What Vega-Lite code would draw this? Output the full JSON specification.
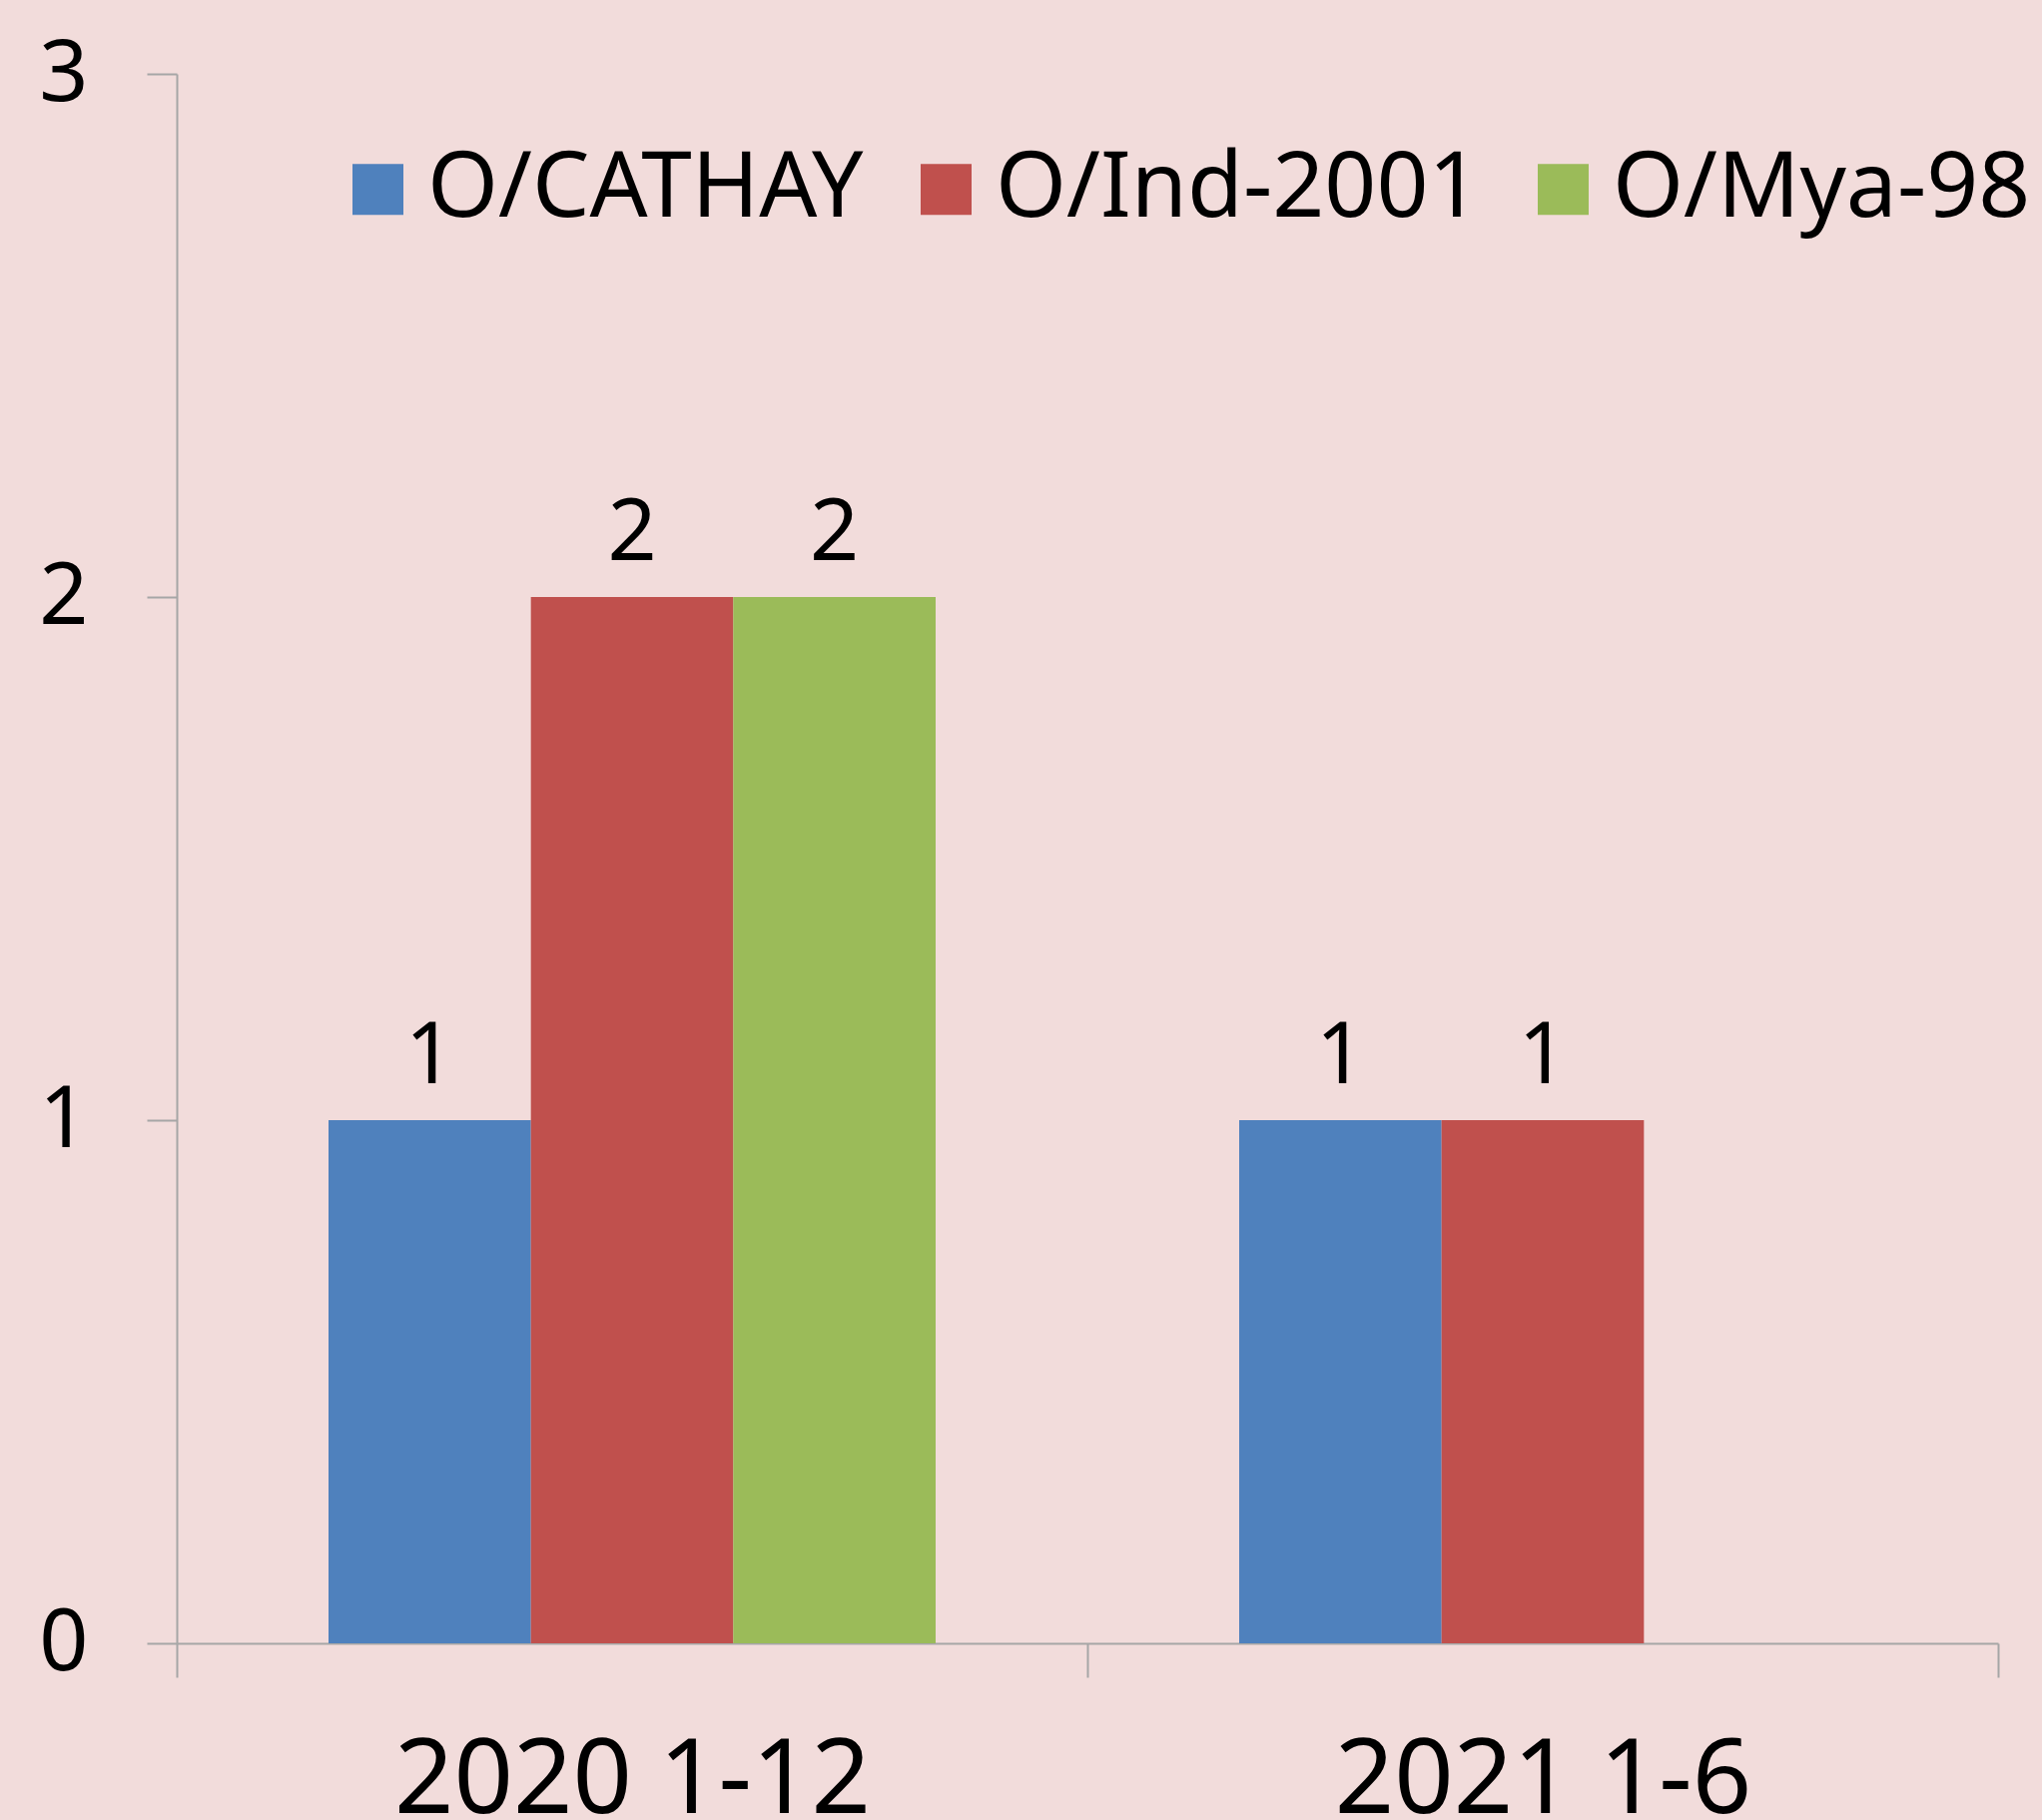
{
  "$schema": "https://vega.github.io/schema/vega-lite/v6.json",
  "autosize": {"type": "none"},
  "padding": {"left": 177, "top": 74, "right": 44, "bottom": 177},
  "width": 1824,
  "height": 1572,
  "background": "#F2DCDB",
  "config": {
    "view": {"stroke": null},
    "font": "Noto Sans"
  },
  "data": {
    "values": [
      {"period": "2020 1-12", "serotype": "O/CATHAY", "value": 1},
      {"period": "2020 1-12", "serotype": "O/Ind-2001", "value": 2},
      {"period": "2020 1-12", "serotype": "O/Mya-98", "value": 2},
      {"period": "2021 1-6", "serotype": "O/CATHAY", "value": 1},
      {"period": "2021 1-6", "serotype": "O/Ind-2001", "value": 1}
    ]
  },
  "encoding": {
    "x": {
      "field": "period",
      "type": "nominal",
      "sort": null,
      "scale": {"paddingInner": 0, "paddingOuter": 0},
      "axis": {
        "title": null,
        "labelAngle": 0,
        "labelFontSize": 104,
        "labelLimit": 0,
        "labelColor": "#000000",
        "labelPadding": 53,
        "tickBand": "extent",
        "tickSize": 34,
        "tickColor": "#A6A6A6",
        "tickWidth": 2,
        "domainColor": "#A6A6A6",
        "domainWidth": 2,
        "grid": false
      }
    },
    "xOffset": {
      "field": "serotype",
      "type": "nominal",
      "sort": ["O/CATHAY", "O/Ind-2001", "O/Mya-98"],
      "scale": {"paddingInner": 0, "paddingOuter": 0.75}
    },
    "y": {
      "field": "value",
      "type": "quantitative",
      "scale": {"domain": [0, 3], "nice": false},
      "axis": {
        "title": null,
        "values": [0, 1, 2, 3],
        "format": "d",
        "labelFontSize": 86,
        "labelColor": "#000000",
        "labelPadding": 59,
        "tickSize": 30,
        "tickColor": "#A6A6A6",
        "tickWidth": 2,
        "domainColor": "#A6A6A6",
        "domainWidth": 2,
        "grid": false
      }
    }
  },
  "layer": [
    {
      "mark": {"type": "bar"},
      "encoding": {
        "color": {
          "field": "serotype",
          "type": "nominal",
          "sort": ["O/CATHAY", "O/Ind-2001", "O/Mya-98"],
          "scale": {
            "domain": ["O/CATHAY", "O/Ind-2001", "O/Mya-98"],
            "range": ["#4F81BD", "#C0504D", "#9BBB59"]
          },
          "legend": {
            "title": null,
            "orient": "none",
            "direction": "horizontal",
            "legendX": 156,
            "legendY": 70,
            "symbolType": "square",
            "symbolSize": 2601,
            "symbolStrokeWidth": 0,
            "labelFontSize": 91,
            "labelLimit": 0,
            "labelColor": "#000000",
            "labelOffset": 4,
            "columnPadding": 37,
            "padding": 0
          }
        }
      }
    },
    {
      "mark": {"type": "text", "baseline": "bottom", "dy": -19, "fontSize": 86, "color": "#000000"},
      "encoding": {
        "text": {"field": "value", "type": "quantitative", "format": "d"}
      }
    }
  ]
}
